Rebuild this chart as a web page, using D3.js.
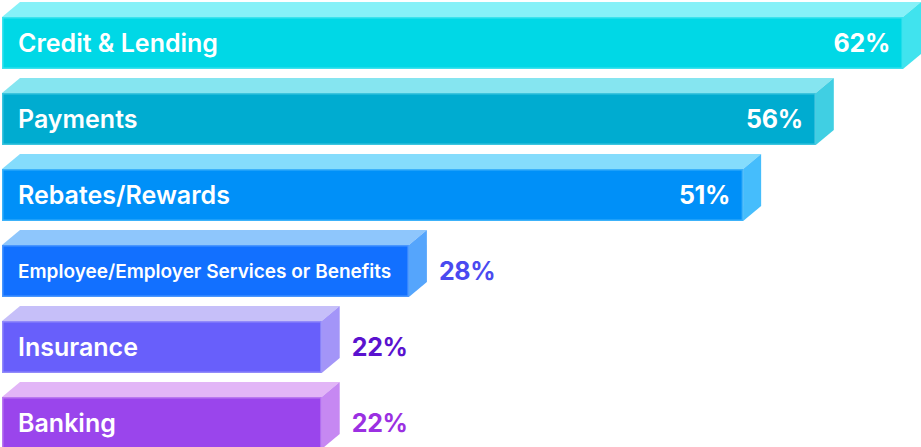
<!DOCTYPE html>
<html>
<head>
<meta charset="utf-8">
<script src="https://cdn.jsdelivr.net/npm/d3@7/dist/d3.min.js"></script>
<style>
  html, body { margin: 0; padding: 0; background: #ffffff; }
  svg { display: block; }
  text { font-family: Inter, "Noto Sans", sans-serif; }
</style>
</head>
<body>
<svg id="chart" width="921" height="447"></svg>
<script>
// Share of respondents by offering category
const categories = [
  "Credit & Lending",
  "Payments",
  "Rebates/Rewards",
  "Employee/Employer Services or Benefits",
  "Insurance",
  "Banking"
];
const values = [62, 56, 51, 28, 22, 22];
const valueLabels = ["62%", "56%", "51%", "28%", "22%", "22%"];

// Face colours per bar: front, top, side, and colour of a value label placed outside
const frontColors = ["#00d8e6", "#00acd0", "#0090f8", "#1270ff", "#685ffb", "#9a45ec"];
const topColors   = ["#86f1f8", "#85e5f0", "#84dcfc", "#8ec6fc", "#c6bff9", "#e2b5f7"];
const sideColors  = ["#40e3ee", "#40cfe3", "#45bdfc", "#55a5fc", "#a395f8", "#c688f2"];
const outsideColors = ["#ffffff", "#ffffff", "#ffffff", "#4a4af0", "#5a12cf", "#9b30e2"];

const W = 921, H = 447;
const depthX = 18, depthY = 15;   // extrusion of the 3D blocks
const left = 2;

const svg = d3.select("#chart");

const x = d3.scaleLinear()
  .domain([0, d3.max(values)])
  .range([left, W - depthX]);

const y = d3.scaleBand()
  .domain(categories)
  .range([2, 449])
  .paddingInner(9 / 76)
  .paddingOuter(0);

const data = categories.map((c, i) => ({
  cat: c, value: values[i], label: valueLabels[i], i
}));

const g = svg.append("g")
  .selectAll("g.bar")
  .data(data)
  .join("g")
  .attr("class", "bar");

const frontTop = d => y(d.cat) + depthY;
const frontBottom = d => y(d.cat) + y.bandwidth();

// top face
g.append("path")
  .attr("d", d => {
    const x0 = x(0), x1 = x(d.value), t = frontTop(d);
    return `M${x0},${t} L${x0 + depthX},${t - depthY} L${x1 + depthX},${t - depthY} L${x1},${t} Z`;
  })
  .attr("fill", d => topColors[d.i]);

// side face
g.append("path")
  .attr("d", d => {
    const x1 = x(d.value), t = frontTop(d), b = frontBottom(d);
    return `M${x1},${t} L${x1 + depthX},${t - depthY} L${x1 + depthX},${b - depthY} L${x1},${b} Z`;
  })
  .attr("fill", d => sideColors[d.i]);

// front face
g.append("rect")
  .attr("x", x(0))
  .attr("y", d => frontTop(d))
  .attr("width", d => x(d.value) - x(0))
  .attr("height", d => frontBottom(d) - frontTop(d))
  .attr("fill", d => frontColors[d.i]);

// soft light rim along the front face
g.append("rect")
  .attr("x", x(0) + 0.75)
  .attr("y", d => frontTop(d) + 0.75)
  .attr("width", d => x(d.value) - x(0) - 1.5)
  .attr("height", d => frontBottom(d) - frontTop(d) - 1.5)
  .attr("fill", "none")
  .attr("stroke", d => topColors[d.i])
  .attr("stroke-opacity", 0.45)
  .attr("stroke-width", 1.5);

// category names
g.append("text")
  .attr("x", x(0) + 16)
  .attr("y", d => (frontTop(d) + frontBottom(d)) / 2)
  .attr("dy", "0.36em")
  .attr("fill", "#ffffff")
  .attr("font-weight", 600)
  .attr("font-size", d => d.cat.length > 25 ? 19 : 25)
  .attr("letter-spacing", "0px")
  .text(d => d.cat);

// value labels: inside the long bars, after the short ones
const inside = d => d.value >= 40;
g.append("text")
  .attr("x", d => inside(d) ? x(d.value) - 13 : x(d.value) + depthX + 12)
  .attr("y", d => (frontTop(d) + frontBottom(d)) / 2)
  .attr("dy", "0.36em")
  .attr("text-anchor", d => inside(d) ? "end" : "start")
  .attr("fill", d => outsideColors[d.i])
  .attr("font-weight", 700)
  .attr("font-size", 25)
  .attr("letter-spacing", "-0.3px")
  .text(d => d.label);
</script>
</body>
</html>
